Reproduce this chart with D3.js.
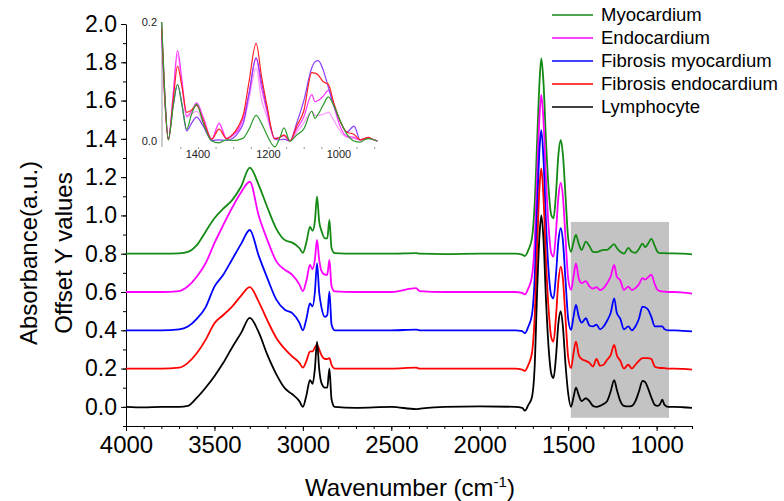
<!DOCTYPE html>
<html><head><meta charset="utf-8">
<script src="https://cdn.jsdelivr.net/npm/d3@7/dist/d3.min.js"></script>
<style>body{margin:0;background:#fff}text{font-family:"Liberation Sans",Arial,sans-serif}</style>
</head><body><svg id="c" width="784" height="501"></svg>
<script>
// ---------- data ----------
const seriesNames = ["Myocardium","Endocardium","Fibrosis myocardium","Fibrosis endocardium","Lymphocyte"];
const seriesColors = ["#138a13","#ff00ff","#0000ff","#ff0000","#000000"];
const offsets = [0.8,0.6,0.4,0.2,0.0];
const wavenumbers = [4000,3900,3800,3700,3650,3600,3550,3500,3450,3400,3350,3300,3250,3200,3150,3100,3060,3020,3000,2980,2960,2945,2932,2920,2908,2895,2875,2862,2850,2838,2820,2700,2500,2360,2340,2200,2000,1800,1760,1745,1725,1705,1690,1675,1662,1652,1640,1625,1610,1595,1583,1570,1555,1542,1530,1515,1500,1484,1470,1456,1440,1424,1400,1380,1360,1340,1320,1300,1280,1260,1240,1225,1205,1185,1160,1140,1120,1100,1080,1065,1050,1030,1010,995,980,968,955,935,900,850,800];
const myocardium = [0,0,0,0.002,0.01,0.045,0.115,0.185,0.235,0.28,0.35,0.45,0.36,0.24,0.13,0.07,0.058,0.03,0.005,0.06,0.14,0.12,0.17,0.3,0.17,0.12,0.08,0.08,0.177,0.03,0.003,0,0,0.003,0,-0.002,0,0,-0.005,-0.012,0.02,0.08,0.25,0.6,0.9,1.02,0.9,0.58,0.33,0.2,0.185,0.3,0.52,0.594,0.52,0.3,0.08,0.01,0.06,0.098,0.05,0.02,0.063,0.04,0.01,0.008,0.015,0.02,0.02,0.035,0.05,0.03,0.01,0,0.03,0.01,0.005,0.025,0.053,0.035,0.05,0.077,0.04,0.01,0.003,0.003,0.003,0.002,0.002,0,-0.003];
const endocardium = [0,0,0,0.005,0.03,0.08,0.15,0.255,0.35,0.44,0.52,0.576,0.4,0.27,0.16,0.115,0.09,0.04,0.005,0.06,0.141,0.12,0.17,0.272,0.17,0.11,0.09,0.09,0.168,0.03,0.003,0,0,0.02,0.005,0,0,0,-0.005,-0.012,0.02,0.08,0.25,0.62,0.92,1.029,0.9,0.58,0.33,0.2,0.185,0.3,0.5,0.571,0.5,0.28,0.07,0.011,0.08,0.15,0.07,0.046,0.057,0.03,0.018,0.025,0.01,0.02,0.046,0.08,0.141,0.08,0.06,0.011,0.028,0.01,0.02,0.04,0.073,0.065,0.075,0.09,0.04,0.011,0.005,0.003,0.002,0,0,-0.003,-0.008];
const fibrosisMyocardium = [0,0,0,0.005,0.02,0.06,0.12,0.228,0.29,0.37,0.45,0.524,0.39,0.27,0.16,0.106,0.09,0.04,0,0.06,0.14,0.125,0.2,0.35,0.2,0.12,0.07,0.08,0.202,0.03,0,0,0,0.003,0,0,0,0,-0.005,-0.015,0.02,0.08,0.26,0.65,0.95,1.046,0.9,0.55,0.3,0.18,0.167,0.28,0.47,0.533,0.47,0.26,0.06,0.002,0.07,0.133,0.07,0.04,0.063,0.025,0.02,0.03,0.005,0.02,0.05,0.09,0.167,0.09,0.06,0.005,0.02,0,0.02,0.06,0.124,0.12,0.11,0.07,0.02,0.02,0.02,0.02,0.005,0,0,-0.003,-0.006];
const fibrosisEndocardium = [0,0,0,0.005,0.03,0.08,0.15,0.237,0.28,0.324,0.38,0.425,0.35,0.25,0.16,0.1,0.063,0.03,0.005,0.04,0.089,0.09,0.11,0.124,0.1,0.07,0.05,0.05,0.055,0.02,0,0,0,0.005,0,0,0,0,-0.005,-0.012,0.02,0.08,0.26,0.65,0.95,1.046,0.9,0.55,0.3,0.16,0.141,0.26,0.46,0.533,0.47,0.26,0.06,0.002,0.08,0.141,0.07,0.05,0.04,0.03,0.01,0.05,0.015,0.02,0.046,0.07,0.124,0.07,0.04,0,0.02,0,0.02,0.04,0.055,0.055,0.055,0.05,0.01,0.005,0.003,0.003,0.002,0,0,-0.002,-0.005];
const lymphocyte = [0,-0.003,0,0,0.005,0.047,0.1,0.16,0.23,0.31,0.385,0.465,0.39,0.27,0.17,0.095,0.066,0.03,0,0.06,0.14,0.12,0.2,0.34,0.2,0.125,0.1,0.1,0.2,0.04,0,-0.005,0,-0.012,-0.01,0,0.002,0,-0.005,-0.02,0.01,0.05,0.2,0.62,0.9,1.0,0.88,0.55,0.3,0.17,0.15,0.25,0.44,0.5,0.42,0.22,0.07,0,0.05,0.1,0.06,0.03,0.045,0.03,0.005,0,0.005,0.015,0.03,0.08,0.14,0.09,0.03,0.005,0.002,0.005,0.03,0.08,0.135,0.13,0.1,0.05,0.01,0.005,0.015,0.037,0.01,0,0,-0.002,-0.005];
const mainSeries = [myocardium, endocardium, fibrosisMyocardium, fibrosisEndocardium, lymphocyte];

const xTicksMajor = [4000,3500,3000,2500,2000,1500,1000];
const yTicksMajor = [0.0,0.2,0.4,0.6,0.8,1.0,1.2,1.4,1.6,1.8,2.0];
const highlightRange = [1485, 930];
const highlightY = [-0.057, 0.966];

// inset
const insetWavenumbers = [1503,1495,1484,1470,1458,1445,1432,1418,1404,1385,1361,1340,1319,1300,1285,1271,1255,1235,1220,1205,1182,1168,1156,1139,1120,1100,1077,1068,1059,1045,1030,1015,997,978,957,940,928,917,905,891];
const insetColors = ["#ff99ff","#ff33ff","#8a3cff","#ff2020","#2e9a2e"];
const insetLightPink = [0.19,0.09,0.003,0.08,0.145,0.09,0.04,0.045,0.05,0.03,0.003,0.031,0.005,0.012,0.018,0.03,0.07,0.123,0.07,0.042,0.005,0.006,0.008,0.001,0.015,0.03,0.05,0.043,0.043,0.045,0.048,0.035,0.017,0.006,0.004,0.002,0.004,0.005,0.003,0];
const insetMagenta = [0.195,0.09,0.003,0.08,0.152,0.1,0.042,0.05,0.064,0.04,0.003,0.029,0.004,0.01,0.02,0.04,0.08,0.139,0.09,0.052,0.004,0.006,0.01,0,0.02,0.04,0.078,0.066,0.068,0.075,0.085,0.06,0.025,0.008,0.006,0.002,0.004,0.006,0.003,0];
const insetViolet = [0.18,0.08,0.003,0.06,0.095,0.06,0.017,0.03,0.04,0.025,0.001,0.002,0.001,0.005,0.015,0.031,0.08,0.14,0.1,0.056,0.003,0.002,0.003,0,0.03,0.067,0.123,0.133,0.135,0.12,0.09,0.06,0.034,0.015,0.025,0.002,0.003,0.005,0.003,0];
const insetRed = [0.19,0.08,0.002,0.07,0.126,0.09,0.048,0.052,0.06,0.035,0.003,0.02,0.004,0.012,0.025,0.045,0.1,0.164,0.11,0.062,0.004,0.006,0.01,0,0.025,0.05,0.115,0.114,0.111,0.1,0.095,0.065,0.034,0.015,0.011,0.002,0.004,0.006,0.003,0];
const insetGreen = [0.2,0.09,0.002,0.06,0.095,0.06,0.02,0.045,0.062,0.03,0,-0.003,0.002,0.001,0.002,0.005,0.02,0.043,0.03,0.011,-0.01,0.005,0.022,0,0.01,0.02,0.05,0.038,0.045,0.06,0.074,0.06,0.035,0.012,0,-0.002,0.002,0.004,0.003,0];
const insetSeries = [insetLightPink, insetMagenta, insetViolet, insetRed, insetGreen];
const insetXTicks = [1400,1200,1000];
const insetYTicks = [0.0,0.2];

// ---------- drawing ----------
const svg = d3.select("#c");
svg.append("rect").attr("width",784).attr("height",501).attr("fill","#fff");

const x = d3.scaleLinear().domain([4000,800]).range([126,692]);
const y = d3.scaleLinear().domain([-0.1,2.0]).range([426,24]);

// highlight box
svg.append("rect")
  .attr("x", x(highlightRange[0])).attr("width", x(highlightRange[1]) - x(highlightRange[0]))
  .attr("y", y(highlightY[1])).attr("height", y(highlightY[0]) - y(highlightY[1]))
  .attr("fill","#c3c3c3");

// axes
const gx = svg.append("g").attr("transform","translate(0,426)");
gx.call(d3.axisBottom(x).tickValues(d3.range(4000,799,-100)).tickFormat("").tickSize(3).tickSizeOuter(0));
gx.call(g=>g.selectAll(".domain").remove());
const gx2 = svg.append("g").attr("transform","translate(0,426)");
gx2.call(d3.axisBottom(x).tickValues(xTicksMajor).tickFormat(d3.format("d")).tickSize(5).tickSizeOuter(0).tickPadding(5));
gx2.selectAll("text").attr("font-size","24px").attr("fill","#000").attr("font-family","Liberation Sans, Arial");
gx2.select(".domain").attr("stroke","#000");

const gy = svg.append("g").attr("transform","translate(126,0)");
gy.call(d3.axisLeft(y).tickValues(d3.range(-0.1,2.001,0.1).map(v=>+v.toFixed(2))).tickFormat("").tickSize(3).tickSizeOuter(0));
gy.call(g=>g.selectAll(".domain").remove());
const gy2 = svg.append("g").attr("transform","translate(126,0)");
gy2.call(d3.axisLeft(y).tickValues(yTicksMajor).tickFormat(d3.format(".1f")).tickSize(5).tickSizeOuter(0).tickPadding(4));
gy2.selectAll("text").attr("font-size","23px").attr("fill","#000").attr("font-family","Liberation Sans, Arial");
gy2.select(".domain").attr("stroke","#000");

// spectra
const line = d3.line().curve(d3.curveMonotoneX);
mainSeries.forEach((vals,i)=>{
  const pts = wavenumbers.map((w,j)=>[x(w), y(vals[j]+offsets[i])]);
  svg.append("path").attr("d", line(pts)).attr("fill","none")
    .attr("stroke", seriesColors[i]).attr("stroke-width",1.8).attr("stroke-linejoin","round");
});

// axis titles
const xt = svg.append("text").attr("x",410).attr("y",496).attr("text-anchor","middle")
  .attr("font-size","24px").attr("fill","#000");
xt.append("tspan").text("Wavenumber (cm");
xt.append("tspan").attr("font-size","15px").attr("dy","-9").text("-1");
xt.append("tspan").attr("dy","9").text(")");

svg.append("text").attr("transform","translate(37,253) rotate(-90)").attr("text-anchor","middle")
  .attr("font-size","24px").attr("fill","#000").text("Absorbance(a.u.)");
svg.append("text").attr("transform","translate(72,253) rotate(-90)").attr("text-anchor","middle")
  .attr("font-size","24px").attr("fill","#000").text("Offset Y values");

// legend
const lg = svg.append("g");
seriesNames.forEach((n,i)=>{
  const yy = 15 + i*23;
  lg.append("line").attr("x1",552).attr("x2",593).attr("y1",yy).attr("y2",yy)
    .attr("stroke",seriesColors[i]).attr("stroke-width",1.6);
  lg.append("text").attr("x",601).attr("y",yy).attr("dy","0.35em")
    .attr("font-size","18.5px").attr("fill","#000").text(n);
});

// inset
const ix = d3.scaleLinear().domain([1500,900]).range([162.7,374.2]);
const iy = d3.scaleLinear().domain([0,0.2]).range([141,22]);
const ig = svg.append("g");
ig.append("line").attr("x1",162).attr("x2",162).attr("y1",iy(0.2)).attr("y2",147).attr("stroke","#999").attr("stroke-width",1);
const iax = ig.append("g").attr("transform","translate(0,147)");
iax.call(d3.axisBottom(ix).tickValues(d3.range(1450,899,-50)).tickFormat("").tickSize(2).tickSizeOuter(0));
iax.select(".domain").remove();
iax.selectAll("line").attr("stroke","#999");
insetXTicks.forEach(t=>{
  ig.append("text").attr("x",ix(t)).attr("y",158).attr("text-anchor","middle").attr("font-size","11px").attr("fill","#222").text(t);
});
insetYTicks.forEach(t=>{
  ig.append("text").attr("x",157).attr("y",iy(t)).attr("dy","0.35em").attr("text-anchor","end").attr("font-size","11px").attr("fill","#222").text(t.toFixed(1));
});
const iline = d3.line().curve(d3.curveMonotoneX);
insetSeries.forEach((vals,i)=>{
  const pts = insetWavenumbers.map((w,j)=>[ix(w), iy(vals[j])]);
  ig.append("path").attr("d", iline(pts)).attr("fill","none")
    .attr("stroke", insetColors[i]).attr("stroke-width",1.2).attr("stroke-linejoin","round");
});
</script></body></html>
